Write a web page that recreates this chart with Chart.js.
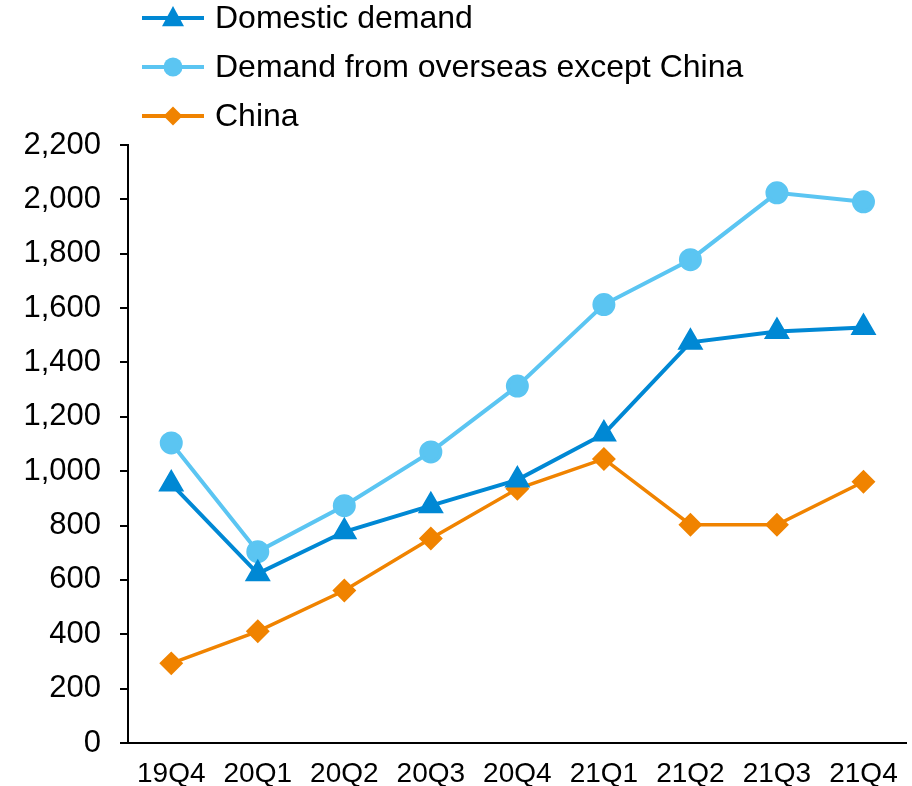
<!DOCTYPE html>
<html>
<head>
<meta charset="utf-8">
<script src="https://cdn.jsdelivr.net/npm/chart.js@4.4.0/dist/chart.umd.min.js"></script>
<style>
  html, body { margin: 0; padding: 0; background: #fff; overflow: hidden; }
  #wrap { width: 912px; height: 786px; position: relative; }
</style>
</head>
<body>
<div id="wrap"><canvas id="c"></canvas></div>
<script>
const quarters = ['19Q4', '20Q1', '20Q2', '20Q3', '20Q4', '21Q1', '21Q2', '21Q3', '21Q4'];
const domestic = [953, 623, 777, 873, 968, 1137, 1474, 1514, 1529];
const overseasExChina = [1104, 704, 873, 1071, 1313, 1613, 1778, 2024, 1991];
const china = [293, 411, 561, 752, 935, 1045, 803, 803, 961];
const yTicks = [0, 200, 400, 600, 800, 1000, 1200, 1400, 1600, 1800, 2000, 2200];

const FONT = "'Liberation Sans', Arial, sans-serif";

// legend drawn as line + marker, stacked in a column
const stackedLegend = {
  id: 'stackedLegend',
  afterDraw(chart) {
    const ctx = chart.ctx;
    const rows = [18, 67, 116];
    chart.data.datasets.forEach((ds, i) => {
      const y = rows[i];
      ctx.save();
      ctx.strokeStyle = ds.borderColor;
      ctx.fillStyle = ds.borderColor;
      ctx.lineWidth = 4;
      ctx.beginPath();
      ctx.moveTo(142, y);
      ctx.lineTo(204, y);
      ctx.stroke();
      const cx = 173, r = ds.pointRadius;
      ctx.beginPath();
      if (ds.pointStyle === 'triangle') {
        ctx.moveTo(cx, y - r * 1.1);
        ctx.lineTo(cx + r, y + r * 0.75);
        ctx.lineTo(cx - r, y + r * 0.75);
      } else if (ds.pointStyle === 'rectRot') {
        ctx.moveTo(cx, y - r);
        ctx.lineTo(cx + r, y);
        ctx.lineTo(cx, y + r);
        ctx.lineTo(cx - r, y);
      } else {
        ctx.arc(cx, y, r, 0, Math.PI * 2);
      }
      ctx.closePath();
      ctx.fill();
      ctx.fillStyle = '#000';
      ctx.font = '32px ' + FONT;
      ctx.textBaseline = 'middle';
      ctx.textAlign = 'left';
      ctx.fillText(ds.label, 215, y + 1);
      ctx.restore();
    });
  }
};

new Chart(document.getElementById('c'), {
  type: 'line',
  data: {
    labels: quarters,
    datasets: [{
      label: 'Domestic demand',
      data: domestic,
      borderColor: '#0088D4',
      backgroundColor: '#0088D4',
      pointStyle: 'triangle',
      pointRadius: 11,
      borderWidth: 4,
      tension: 0
    }, {
      label: 'Demand from overseas except China',
      data: overseasExChina,
      borderColor: '#5BC5F2',
      backgroundColor: '#5BC5F2',
      pointStyle: 'circle',
      pointRadius: 9.5,
      borderWidth: 4,
      tension: 0
    }, {
      label: 'China',
      data: china,
      borderColor: '#F08300',
      backgroundColor: '#F08300',
      pointStyle: 'rectRot',
      pointRadius: 9.5,
      borderWidth: 3.5,
      tension: 0
    }]
  },
  options: {
    responsive: true,
    maintainAspectRatio: false,
    animation: false,
    layout: { autoPadding: false, padding: { top: 145, right: 5, left: 0, bottom: 0 } },
    plugins: {
      legend: { display: false },
      tooltip: { enabled: false }
    },
    scales: {
      x: {
        offset: true,
        grid: { display: false, drawTicks: false },
        border: { color: '#000', width: 2 },
        ticks: { color: '#000', font: { family: FONT, size: 28 }, padding: 14, maxRotation: 0, autoSkip: false },
        afterFit(s) { s.height = 43; }
      },
      y: {
        min: 0,
        max: 2200,
        afterBuildTicks(s) { s.ticks = yTicks.map(v => ({ value: v })); },
        grid: { drawOnChartArea: false, drawTicks: true, tickLength: 8, color: '#000', lineWidth: 2 },
        border: { color: '#000', width: 2 },
        ticks: {
          color: '#000',
          font: { family: FONT, size: 31 },
          padding: 19,
          callback: v => v.toLocaleString('en-US')
        },
        afterFit(s) { s.width = 128; }
      }
    }
  },
  plugins: [stackedLegend]
});
</script>
</body>
</html>
